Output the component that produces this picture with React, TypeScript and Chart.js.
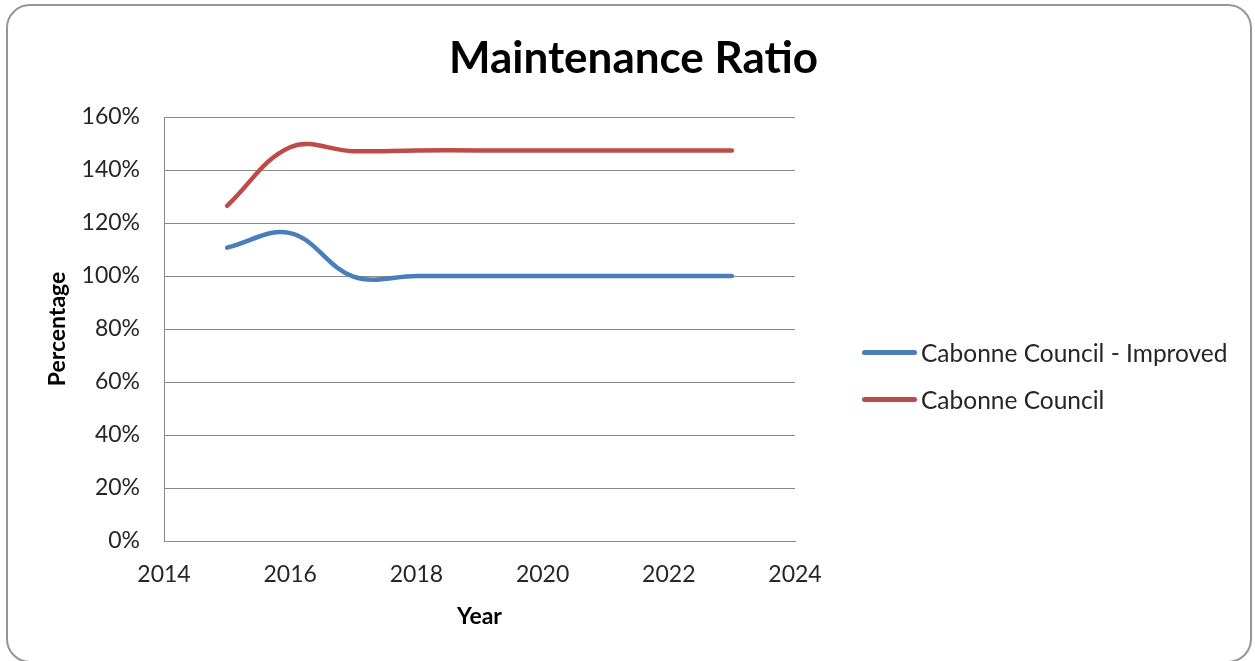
import React, { useEffect, useRef } from 'react';
import { Chart, registerables } from 'chart.js';

Chart.register(...registerables);

// Financial years plotted on the horizontal axis
const years = [2015, 2016, 2017, 2018, 2019, 2020, 2021, 2022, 2023];

// Maintenance ratio (%) for each scenario
const improvedRatio = [110.7, 116.2, 99.8, 100, 100, 100, 100, 100, 100];
const councilRatio = [126.5, 148.6, 147.1, 147.4, 147.4, 147.4, 147.4, 147.4, 147.4];

const seriesNames = ['Cabonne Council - Improved', 'Cabonne Council'];
const seriesColors = ['#4A7EBB', '#BE4B48'];

// Axis ranges and tick spacing
const yearAxis = { min: 2014, max: 2024, step: 2 };
const percentAxis = { min: 0, max: 160, step: 20 };

const chartTitle = 'Maintenance Ratio';
const xAxisTitle = 'Year';
const yAxisTitle = 'Percentage';

const FONT = 'Lato, "Open Sans", "DejaVu Sans", sans-serif';
const GRID = '#8a8a8a';
const TEXT = '#262626';

export default function App() {
  const canvasRef = useRef<HTMLCanvasElement | null>(null);

  useEffect(() => {
    const canvas = canvasRef.current;
    if (!canvas) return;
    Chart.defaults.font.family = FONT;

    const series = [improvedRatio, councilRatio];
    const chart = new Chart(canvas, {
      type: 'line',
      data: {
        datasets: series.map((values, i) => ({
          label: seriesNames[i],
          data: years.map((x, j) => ({ x, y: values[j] })),
          borderColor: seriesColors[i],
          backgroundColor: seriesColors[i],
          borderWidth: 4.5,
          borderCapStyle: 'round',
          borderJoinStyle: 'round',
          tension: 0.38,
          pointRadius: 0,
          pointHoverRadius: 0,
          fill: false,
        })),
      },
      options: {
        animation: false,
        responsive: false,
        events: [],
        layout: { padding: { top: 117, right: 460, bottom: 0, left: 0 } },
        plugins: {
          legend: { display: false },
          title: { display: false },
          tooltip: { enabled: false },
        },
        scales: {
          x: {
            type: 'linear',
            min: yearAxis.min,
            max: yearAxis.max,
            ticks: {
              stepSize: yearAxis.step,
              callback: (v: any) => String(v),
              padding: 20,
              color: TEXT,
              font: { size: 23, family: FONT },
            },
            grid: { display: false, drawTicks: false },
            border: { display: true, color: GRID, width: 1 },
            title: {
              display: true,
              text: xAxisTitle,
              color: '#000',
              font: { size: 23, weight: 'bold', family: FONT },
              padding: { top: 0, bottom: 31 },
            },
            afterFit: (scale: any) => {
              scale.height = 120;
            },
          },
          y: {
            type: 'linear',
            min: percentAxis.min,
            max: percentAxis.max,
            ticks: {
              stepSize: percentAxis.step,
              callback: (v: any) => `${v}%`,
              padding: 24,
              color: TEXT,
              font: { size: 23, family: FONT },
            },
            grid: { color: GRID, lineWidth: 1, drawTicks: false },
            border: { display: true, color: GRID, width: 1 },
            title: {
              display: true,
              text: yAxisTitle,
              color: '#000',
              font: { size: 23, weight: 'bold', family: FONT },
              padding: { top: 44, bottom: 0 },
            },
            afterFit: (scale: any) => {
              scale.width = 164;
            },
          },
        },
      },
    } as any);

    return () => chart.destroy();
  }, []);

  return (
    <div
      style={{
        position: 'absolute',
        left: 0,
        top: 0,
        width: 1255,
        height: 661,
        background: '#fff',
        overflow: 'hidden',
        fontFamily: FONT,
      }}
    >
      <div
        style={{
          position: 'absolute',
          left: 6,
          top: 4,
          width: 1246,
          height: 659,
          boxSizing: 'border-box',
          border: '2px solid #969696',
          borderRadius: 24,
        }}
      />
      <canvas
        ref={canvasRef}
        width={1255}
        height={661}
        style={{ position: 'absolute', left: 0, top: 0, width: 1255, height: 661 }}
      />
      <div
        style={{
          position: 'absolute',
          left: 6,
          top: 30,
          width: 1255,
          height: 52,
          lineHeight: '52px',
          textAlign: 'center',
          fontSize: 44,
          fontWeight: 'bold',
          color: '#000',
        }}
      >
        {chartTitle}
      </div>
      {seriesNames.map((name, i) => (
        <div
          key={name}
          style={{
            position: 'absolute',
            left: 862,
            top: 338 + i * 47,
            height: 29,
            display: 'flex',
            alignItems: 'center',
            whiteSpace: 'nowrap',
          }}
        >
          <span
            style={{
              display: 'inline-block',
              width: 55,
              height: 4.5,
              borderRadius: 2.5,
              background: seriesColors[i],
              marginRight: 4,
            }}
          />
          <span style={{ fontSize: 24.5, lineHeight: '29px', color: TEXT }}>{name}</span>
        </div>
      ))}
    </div>
  );
}
